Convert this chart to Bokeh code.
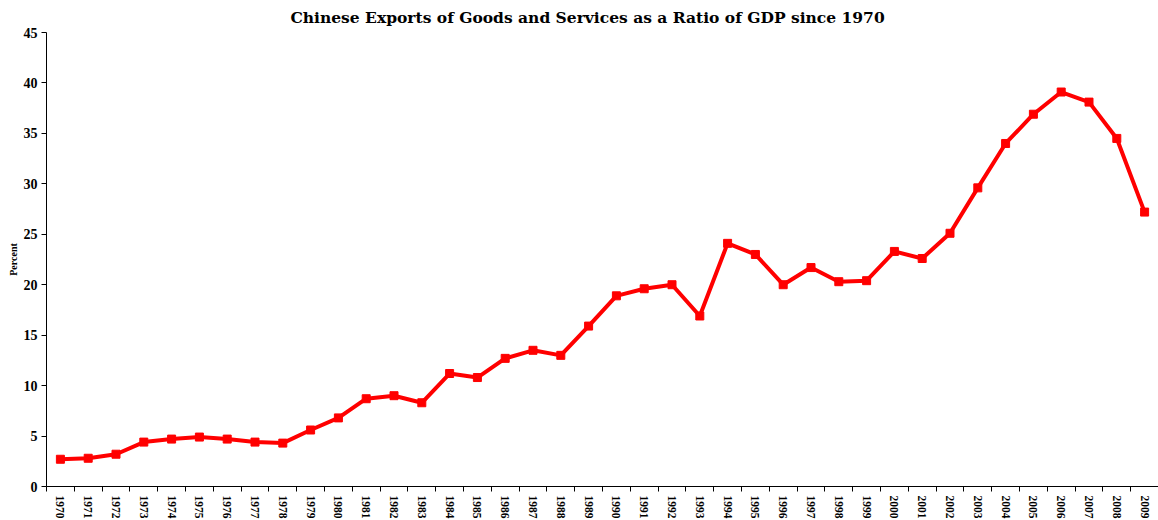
import math
from bokeh.plotting import figure
from bokeh.models import FixedTicker, Range1d
from bokeh.embed import file_html
from bokeh.resources import INLINE

years = list(range(1970, 2010))
export_ratio = [2.7, 2.8, 3.2, 4.4, 4.7, 4.9, 4.7, 4.4, 4.3, 5.6,
                6.8, 8.7, 9.0, 8.3, 11.2, 10.8, 12.7, 13.5, 13.0, 15.9,
                18.9, 19.6, 20.0, 16.9, 24.1, 23.0, 20.0, 21.7, 20.3, 20.4,
                23.3, 22.6, 25.1, 29.6, 34.0, 36.9, 39.1, 38.1, 34.5, 27.2]
y_ticks = [0, 5, 10, 15, 20, 25, 30, 35, 40, 45]
title_text = "Chinese Exports of Goods and Services as a Ratio of GDP since 1970"
y_label = "Percent"

p = figure(frame_width=1112, frame_height=454, output_backend="svg", toolbar_location=None,
           x_range=Range1d(years[0] - 0.5, years[-1] + 0.5),
           y_range=Range1d(y_ticks[0], y_ticks[-1]),
           min_border_left=46, min_border_right=0, min_border_bottom=34, min_border_top=32)

p.title.text = title_text
p.title.align = "left"
p.title.offset = 244
p.title.text_font = "DejaVu Serif"
p.title.text_font_size = "15.5px"
p.title.text_font_style = "bold"
p.title.text_color = "black"
p.title.standoff = 11

p.outline_line_color = None
p.xgrid.grid_line_color = None
p.ygrid.grid_line_color = None
p.background_fill_color = "white"
p.border_fill_color = "white"

p.line(years, export_ratio, line_color="#ff0000", line_width=4)
p.scatter(years, export_ratio, marker="square", size=8, fill_color="#ff0000", line_color="#ff0000")

xa = p.xaxis[0]
xa.ticker = FixedTicker(ticks=years, minor_ticks=[y - 0.5 for y in years] + [years[-1] + 0.5])
xa.major_tick_out = 0
xa.major_tick_in = 0
xa.minor_tick_out = 5
xa.minor_tick_in = 0
xa.minor_tick_line_color = "black"
xa.axis_line_color = "black"
xa.major_label_orientation = -math.pi / 2
xa.major_label_text_font = "Liberation Serif"
xa.major_label_text_font_style = "bold"
xa.major_label_text_font_size = "11.5px"
xa.major_label_text_color = "black"
xa.major_label_standoff = 4

ya = p.yaxis[0]
ya.ticker = FixedTicker(ticks=y_ticks, minor_ticks=[])
ya.major_tick_out = 5
ya.major_tick_in = 0
ya.axis_line_color = "black"
ya.major_tick_line_color = "black"
ya.major_label_text_font = "Liberation Serif"
ya.major_label_text_font_style = "bold"
ya.major_label_text_font_size = "14px"
ya.major_label_text_color = "black"
ya.major_label_standoff = 4
ya.axis_label = y_label
ya.axis_label_text_font = "Liberation Serif"
ya.axis_label_text_font_style = "bold"
ya.axis_label_text_font_size = "10px"
ya.axis_label_text_color = "black"
ya.axis_label_standoff = 2

open("out.html", "w").write(file_html(p, INLINE))
